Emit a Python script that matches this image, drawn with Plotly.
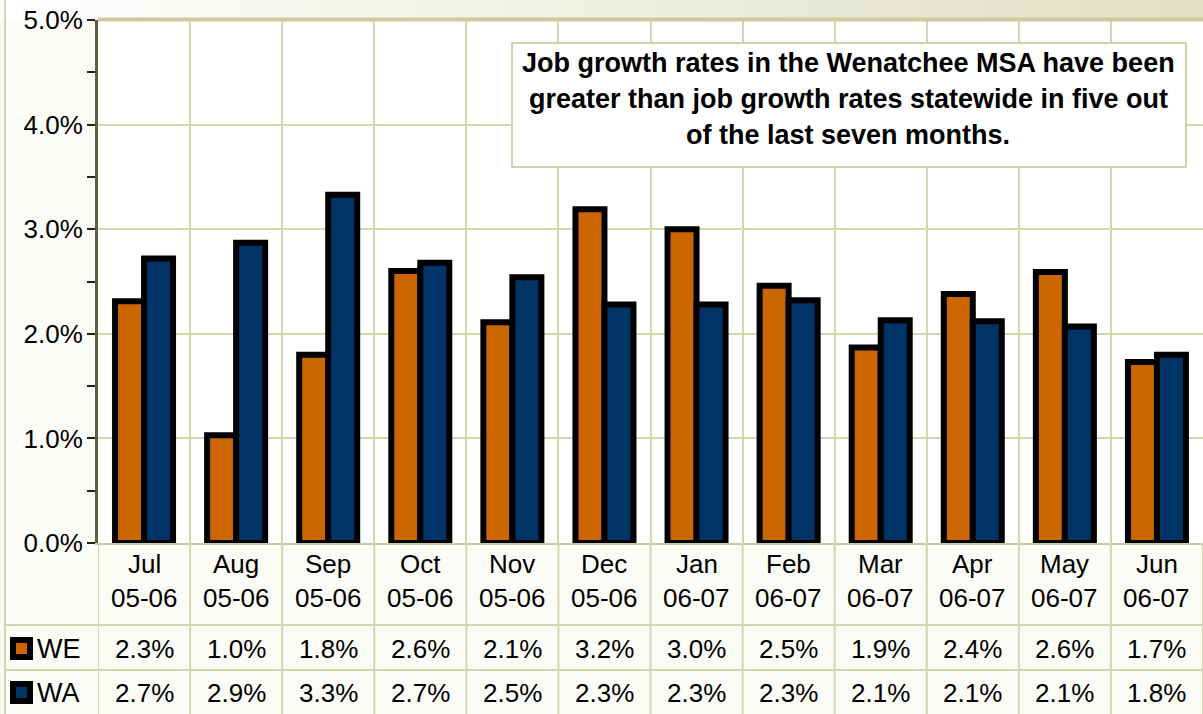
import plotly.graph_objects as go

months = ["Jul", "Aug", "Sep", "Oct", "Nov", "Dec", "Jan", "Feb", "Mar", "Apr", "May", "Jun"]
years = ["05-06", "05-06", "05-06", "05-06", "05-06", "05-06",
         "06-07", "06-07", "06-07", "06-07", "06-07", "06-07"]
we = [2.31, 1.03, 1.80, 2.60, 2.11, 3.19, 3.00, 2.46, 1.87, 2.38, 2.59, 1.73]
wa = [2.72, 2.87, 3.33, 2.68, 2.54, 2.28, 2.28, 2.32, 2.13, 2.12, 2.07, 1.80]
series_names = ["WE", "WA"]
series_colors = ["#CC6600", "#003366"]
note_lines = [
    "Job growth rates in the Wenatchee MSA have been",
    "greater than job growth rates statewide in five out",
    "of the last seven months.",
]

cats = [f"{m} {y}" for m, y in zip(months, years)]

W, H = 1203, 714
L, R, T, B = 98, 0, 20, 171
pw, ph = W - L - R, H - T - B


def px_x(p):
    return (p - L) / pw


def px_y(p):
    return (H - B - p) / ph


FONT = "Liberation Sans, Arial, sans-serif"
GRID = "#d6d6ae"
FS = 26

fig = go.Figure()
for name, vals, col in zip(series_names, [we, wa], series_colors):
    fig.add_trace(go.Bar(
        x=cats, y=vals, name=name,
        marker=dict(color=col, line=dict(color="black", width=6)),
        showlegend=False,
    ))

shapes = []
# top gradient band
n = 60
x_left = px_x(0)
for i in range(n):
    t = i / (n - 1)
    r = int(255 - (255 - 224) * t)
    g = int(255 - (255 - 224) * t)
    b = int(255 - (255 - 198) * t)
    x0 = x_left + (1 - x_left) * i / n
    x1 = x_left + (1 - x_left) * (i + 1) / n + 0.002
    shapes.append(dict(type="rect", xref="paper", yref="paper", x0=x0, x1=x1,
                       y0=1.0, y1=px_y(-2), fillcolor=f"rgb({r},{g},{b})",
                       line=dict(width=0), layer="below"))
# top border of plot
shapes.append(dict(type="line", xref="paper", yref="paper", x0=0, x1=1, y0=px_y(19.5), y1=px_y(19.5),
                   line=dict(color="#cbcb9c", width=4)))
# outer left border
shapes.append(dict(type="line", xref="paper", yref="paper", x0=px_x(5), x1=px_x(5),
                   y0=px_y(H), y1=px_y(0), line=dict(color=GRID, width=2)))
# table vertical lines
for i in range(len(cats) + 1):
    shapes.append(dict(type="line", xref="x", yref="paper", x0=i - 0.5, x1=i - 0.5,
                       y0=0, y1=px_y(H), line=dict(color=GRID, width=2)))
# table horizontal lines
for yy in [625, 670]:
    shapes.append(dict(type="line", xref="paper", yref="paper", x0=px_x(5), x1=1,
                       y0=px_y(yy), y1=px_y(yy), line=dict(color=GRID, width=2)))
# legend keys
row_y = [649, 693]
for ry, col in zip(row_y, series_colors):
    shapes.append(dict(type="rect", xref="paper", yref="paper",
                       x0=px_x(10), x1=px_x(33), y0=px_y(ry - 12), y1=px_y(ry + 11),
                       fillcolor="black", line=dict(width=0)))
    shapes.append(dict(type="rect", xref="paper", yref="paper",
                       x0=px_x(16), x1=px_x(27), y0=px_y(ry - 6), y1=px_y(ry + 5),
                       fillcolor=col, line=dict(width=0)))
# note box
shapes.append(dict(type="rect", xref="paper", yref="paper",
                   x0=px_x(512), x1=px_x(1186), y0=px_y(167), y1=px_y(43),
                   fillcolor="white", line=dict(color="#d2d2a8", width=2), layer="above"))

annotations = []
for c, m, y in zip(cats, months, years):
    annotations.append(dict(x=c, xref="x", y=px_y(564), yref="paper", text=m,
                            showarrow=False, font=dict(size=FS, color="black", family=FONT),
                            xanchor="center", yanchor="middle"))
    annotations.append(dict(x=c, xref="x", y=px_y(598), yref="paper", text=y,
                            showarrow=False, font=dict(size=FS, color="black", family=FONT),
                            xanchor="center", yanchor="middle"))
for ry, name, vals in zip(row_y, series_names, [we, wa]):
    annotations.append(dict(x=px_x(35), xref="paper", y=px_y(ry), yref="paper", text=name,
                            showarrow=False, font=dict(size=FS + 1, color="black", family=FONT),
                            xanchor="left", yanchor="middle"))
    for c, v in zip(cats, vals):
        annotations.append(dict(x=c, xref="x", y=px_y(ry), yref="paper", text=f"{v:.1f}%",
                                showarrow=False, font=dict(size=FS, color="black", family=FONT),
                                xanchor="center", yanchor="middle"))
for ly, line in zip([63, 99, 135], note_lines):
    annotations.append(dict(x=px_x(848), xref="paper", y=px_y(ly), yref="paper", text=f"<b>{line}</b>",
                            showarrow=False, font=dict(size=27, color="black", family=FONT),
                            xanchor="center", yanchor="middle"))

fig.update_layout(
    width=W, height=H, autosize=False,
    margin=dict(l=L, r=R, t=T, b=B, pad=0),
    paper_bgcolor="#fcfcf7", plot_bgcolor="white",
    barmode="group", bargap=0.37, bargroupgap=0,
    font=dict(family=FONT, size=FS, color="black"),
    shapes=shapes, annotations=annotations,
    xaxis=dict(type="category", range=[-0.5, len(cats) - 0.5], tickson="boundaries",
               showgrid=True, gridcolor=GRID, gridwidth=1.5, showticklabels=False,
               ticks="", showline=True, linecolor="#c9c9a0", linewidth=2, zeroline=False,
               fixedrange=True),
    yaxis=dict(range=[0, 5], dtick=1, tickformat=".1f", ticksuffix="%",
               showgrid=True, gridcolor=GRID, gridwidth=1.5, zeroline=False,
               ticks="outside", ticklen=8, tickwidth=2, tickcolor="#222",
               showline=True, linecolor="#5f5f45", linewidth=3,
               ticklabelstandoff=-1, tickfont=dict(size=FS, family=FONT),
               minor=dict(dtick=0.5, ticks="outside", ticklen=8, tickwidth=2,
                          tickcolor="#222", showgrid=False),
               fixedrange=True),
)

fig.write_html("out.html", config={"displayModeBar": False},
               post_script="document.body.style.margin='0';document.body.style.overflow='hidden';")
